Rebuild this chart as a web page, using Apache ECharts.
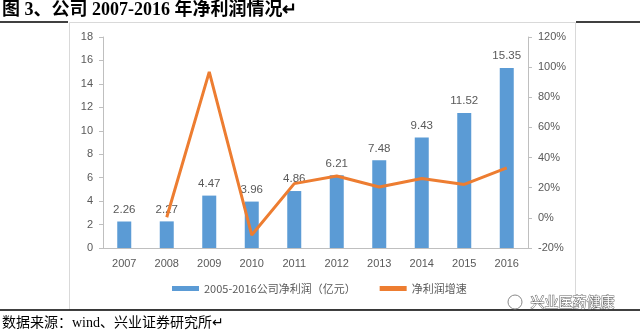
<!DOCTYPE html>
<html><head><meta charset="utf-8">
<script src="https://cdn.jsdelivr.net/npm/echarts@6/dist/echarts.min.js"></script>
<style>html,body{margin:0;padding:0;background:#fff}#c{width:640px;height:333px}</style>
</head><body><div id="c"></div>
<script>
var categories = ['2007','2008','2009','2010','2011','2012','2013','2014','2015','2016'];
var profit = [2.26, 2.27, 4.47, 3.96, 4.86, 6.21, 7.48, 9.43, 11.52, 15.35];
var growth = [null, 0.4, 96.9, -11.4, 22.7, 27.8, 20.5, 26.1, 22.2, 33.2];
var leftTicks = {min: 0, max: 18, interval: 2};
var rightTicks = {min: -20, max: 120, interval: 20};
var seriesNames = ['2005-2016公司净利润（亿元）', '净利润增速'];
var titleText = '图 3、公司 2007-2016 年净利润情况↵';
var sourceText = '数据来源：wind、兴业证券研究所↵';
var watermarkText = '兴业医药健康';

var chart = echarts.init(document.getElementById('c'), null, {renderer: 'canvas'});
var gray = '#595959', axisGray = '#BFBFBF';
chart.setOption({
  animation: false,
  textStyle: {fontFamily: 'Liberation Sans, Noto Sans CJK SC, sans-serif'},
  grid: {left: 103, right: 112, top: 37, bottom: 85},
  legend: {
    bottom: 34, left: 167, itemGap: 24, itemWidth: 27, itemHeight: 5,
    textStyle: {color: gray, fontSize: 11, fontFamily: 'Noto Sans CJK SC, sans-serif'},
    data: [
      {name: seriesNames[0], icon: 'rect'},
      {name: seriesNames[1], icon: 'rect', itemStyle: {color: '#ED7D31'}}
    ]
  },
  xAxis: {
    type: 'category', data: categories,
    axisLine: {lineStyle: {color: axisGray}},
    axisTick: {show: false},
    axisLabel: {color: gray, fontSize: 11, margin: 10}
  },
  yAxis: [
    {type: 'value', min: leftTicks.min, max: leftTicks.max, interval: leftTicks.interval,
     axisLine: {show: true, lineStyle: {color: axisGray}},
     axisTick: {show: true, length: 4, lineStyle: {color: axisGray}},
     splitLine: {show: false},
     axisLabel: {color: gray, fontSize: 11, margin: 10}},
    {type: 'value', min: rightTicks.min, max: rightTicks.max, interval: rightTicks.interval,
     axisLine: {show: true, lineStyle: {color: axisGray}},
     axisTick: {show: true, length: 4, lineStyle: {color: axisGray}},
     splitLine: {show: false},
     axisLabel: {color: gray, fontSize: 11, margin: 10, formatter: '{value}%'}}
  ],
  series: [
    {name: seriesNames[0], type: 'bar', data: profit, barWidth: 14, yAxisIndex: 0,
     itemStyle: {color: '#5B9BD5'},
     label: {show: true, position: 'top', distance: 6, color: gray, fontSize: 11.5,
             formatter: function(p){return p.value.toFixed(2);}}},
    {name: seriesNames[1], type: 'line', data: growth, yAxisIndex: 1,
     showSymbol: false, symbol: 'none', connectNulls: false,
     lineStyle: {color: '#ED7D31', width: 3}, itemStyle: {color: '#ED7D31'}, z: 5}
  ],
  graphic: [
    {type: 'text', left: 2, top: 1, style: {text: titleText, fill: '#000',
      font: 'bold 18px "Liberation Serif", "Noto Sans CJK SC", serif'}},
    {type: 'line', shape: {x1: 0, y1: 22, x2: 68, y2: 22}, style: {stroke: '#000', lineWidth: 1.5}},
    {type: 'line', shape: {x1: 576, y1: 22, x2: 640, y2: 22}, style: {stroke: '#000', lineWidth: 1.5}},
    {type: 'rect', shape: {x: 69.5, y: 22.5, width: 506, height: 287}, style: {fill: 'none', stroke: '#D9D9D9', lineWidth: 1}},
    {type: 'line', shape: {x1: 0, y1: 310, x2: 640, y2: 310}, style: {stroke: '#000', lineWidth: 1.5}},
    {type: 'text', left: 2, top: 316, style: {text: sourceText, fill: '#000',
      font: '14px "Liberation Serif", "Noto Sans CJK SC", serif'}},
    {type: 'text', left: 530, top: 294, style: {text: watermarkText, fill: '#fff', stroke: '#666', lineWidth: 1,
      font: '14px "Noto Sans CJK SC", sans-serif'}},
    {type: 'circle', shape: {cx: 515, cy: 302, r: 7}, style: {fill: 'none', stroke: '#888', lineWidth: 1}}
  ]
});
</script></body></html>
